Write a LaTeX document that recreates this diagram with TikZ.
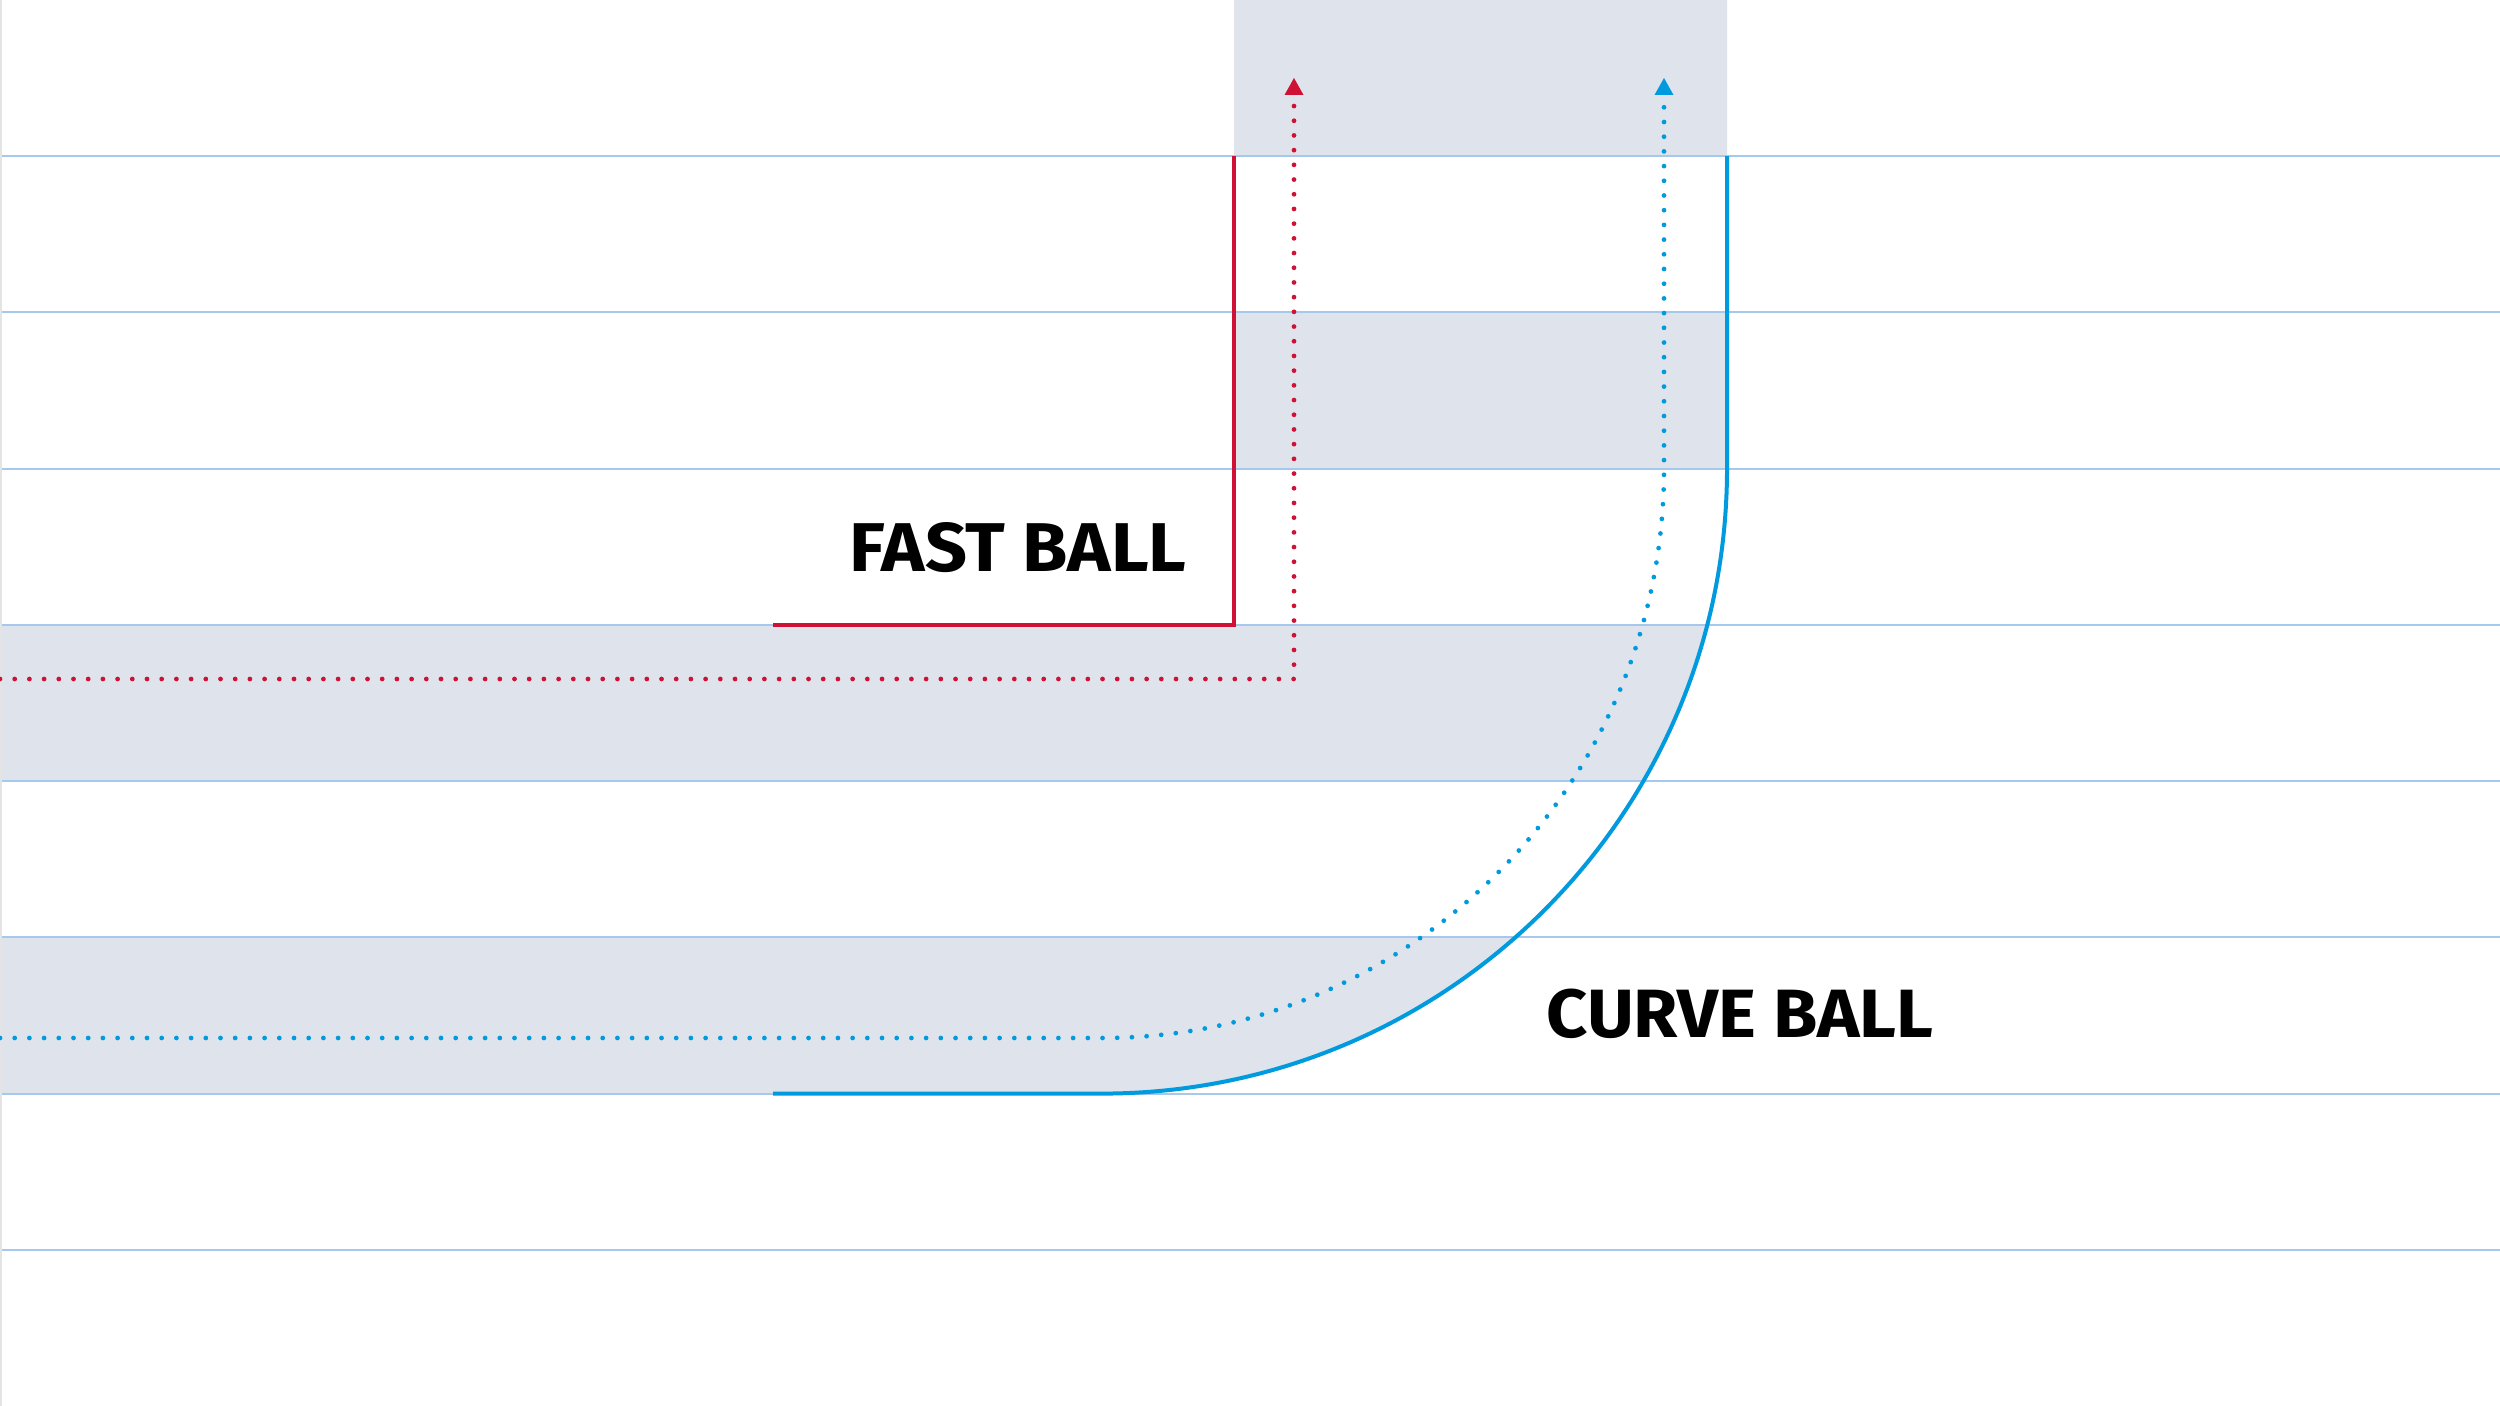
\documentclass[tikz,border=0pt]{standalone}
\usepackage{fontspec}
\setmainfont{Fira Sans}
\usepackage{graphicx}
\usetikzlibrary{calc}
\definecolor{bandgray}{RGB}{223,227,235}
\definecolor{rulecol}{RGB}{165,200,236}
\definecolor{edgecol}{RGB}{228,228,228}
\definecolor{fastred}{RGB}{206,17,52}
\definecolor{curveblue}{RGB}{0,155,223}
\tikzset{
  band/.style={fill=bandgray},
  rule/.style={draw=rulecol, line width=0.8pt},
  redline/.style={draw=fastred, line width=1.5pt},
  blueline/.style={draw=curveblue, line width=1.6pt},
  dotline/.style={line width=1.9pt, line cap=round, dash pattern=on 0pt off 5.88pt},
  lbl/.style={anchor=base west, inner sep=0pt, text=black}
}
\begin{document}
\begin{tikzpicture}[x=0.4pt,y=0.4pt]
\useasboundingbox (0,0) rectangle (2500,1406);
\fill[white] (0,0) rectangle (2500,1406);
% shaded bands inside the lane
\begin{scope}
\clip (1234,1406) -- (1727,1406) -- (1727,937.3)
      arc[start angle=0,end angle=-90,radius=250pt]
      -- (0,312.3) -- (0,781.1) -- (1234,781.1) -- cycle;
\fill[band] (0,1249.8) rectangle (2500,1406);
\fill[band] (0,937.3) rectangle (2500,1093.6);
\fill[band] (0,624.9) rectangle (2500,781.1);
\fill[band] (0,312.4) rectangle (2500,468.7);
\end{scope}
% horizontal rules
\foreach \k in {1,...,8} {
  \draw[rule] (0,156.22*\k) -- (2500,156.22*\k);
}
% left edge
\draw[draw=edgecol, line width=0.8pt] (1,0) -- (1,1406);
% fast ball lane
\coordinate (rA) at (773,781.1);
\coordinate (rB) at (1234,781.1);
\coordinate (rC) at (1234,1249.8);
\draw[redline] (rA) -- (rB) -- (rC);
% curve ball lane
\coordinate (bA) at (773,312.4);
\coordinate (bB) at (1102,312.4);
\coordinate (bD) at (1727,1249.8);
\draw[blueline] (bA) -- (bB) arc[start angle=-90,end angle=0,radius=250pt] -- (bD);
% fast ball path
\coordinate (rs) at (0,727);
\coordinate (rk) at (1294,727);
\coordinate (re) at (1294,1300);
\draw[dotline, draw=fastred] (rs) -- (rk) -- (re);
\coordinate (rt) at (1294,1328);
\fill[fastred] ($(rt)+(-9.5,-17)$) -- (rt) -- ($(rt)+(9.5,-17)$) -- cycle;
% curve ball path
\coordinate (cs) at (0,368);
\coordinate (ck) at (1102,368);
\coordinate (ce) at (1664,1300);
\draw[dotline, draw=curveblue] (cs) -- (ck)
   arc[start angle=-90,end angle=0,x radius=224.8pt,y radius=227.72pt] -- (ce);
\coordinate (ct) at (1664,1328);
\fill[curveblue] ($(ct)+(-9.5,-17)$) -- (ct) -- ($(ct)+(9.5,-17)$) -- cycle;
% labels
\node[lbl] (fast) at (849,834.3) {\resizebox{134.8pt}{19.6pt}{\bfseries FAST BALL}};
\node[lbl] (curve) at (1546,368) {\resizebox{154.8pt}{19.4pt}{\bfseries CURVE BALL}};
\end{tikzpicture}
\end{document}
